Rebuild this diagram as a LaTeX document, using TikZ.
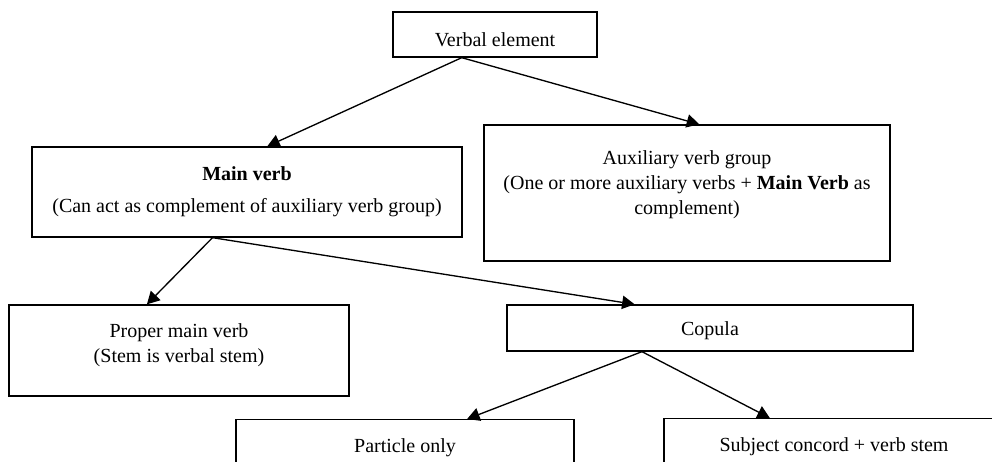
\documentclass[tikz,border=0pt]{standalone}
\usepackage{fontspec}
\setmainfont{Liberation Serif}
\usetikzlibrary{arrows.meta,calc}

\begin{document}
\begin{tikzpicture}[x=0.6pt,y=-0.6pt]
        \tikzstyle{box} = [draw, line width=0.8pt, align=center, inner sep=0pt, font=\fontsize{12}{15}\selectfont]
        \tikzstyle{link} = [line width=0.8pt, -{Triangle[length=7.5pt,width=8pt]}]

        \useasboundingbox (0,0) rectangle (992,461);
        \clip (0,0) rectangle (992,461);

        \node[box, minimum width=122.4pt, minimum height=27pt, text height=14pt] (VE) at (495,34.5){Verbal element};
        \node[box, minimum width=258pt, minimum height=54pt] (MV) at (247,192){\textbf{Main verb}\\[4pt](Can act as complement of auxiliary verb group)};
        \node[box, minimum width=243.6pt, minimum height=81.6pt, text depth=13pt] (AV) at (687,193){Auxiliary verb group\\(One or more auxiliary verbs + \textbf{Main Verb} as\\complement)};
        \node[box, minimum width=204pt, minimum height=54.6pt, text depth=9pt] (PM) at (179,350.5){Proper main verb\\(Stem is verbal stem)};
        \node[box, minimum width=243.6pt, minimum height=27.6pt, text height=12pt] (CO) at (710,328){Copula};
        \node[box, anchor=north, minimum width=202.8pt, inner ysep=11pt, text height=8.5pt, text depth=20pt] (PO) at (405,419){Particle only};
        \node[box, anchor=north, minimum width=204pt, inner ysep=11pt, text height=8.5pt, text depth=20pt] (SC) at (834,418){Subject concord + verb stem};

        %\draw[->] (VE) -- (MV);
        \draw[link] ($(VE.south west)!0.338!(VE.south east)$) -- ($(MV.north west)!0.547!(MV.north east)$);
        \draw[link] ($(VE.south west)!0.338!(VE.south east)$) -- ($(AV.north west)!0.53!(AV.north east)$);
        \draw[link] ($(MV.south west)!0.42!(MV.south east)$) -- ($(PM.north west)!0.406!(PM.north east)$);
        \draw[link] ($(MV.south west)!0.42!(MV.south east)$) -- ($(CO.north west)!0.315!(CO.north east)$);
        \draw[link] ($(CO.south west)!0.333!(CO.south east)$) -- ($(PO.north west)!0.683!(PO.north east)$);
        \draw[link] ($(CO.south west)!0.333!(CO.south east)$) -- ($(SC.north west)!0.312!(SC.north east)$);

    \end{tikzpicture}
\end{document}
